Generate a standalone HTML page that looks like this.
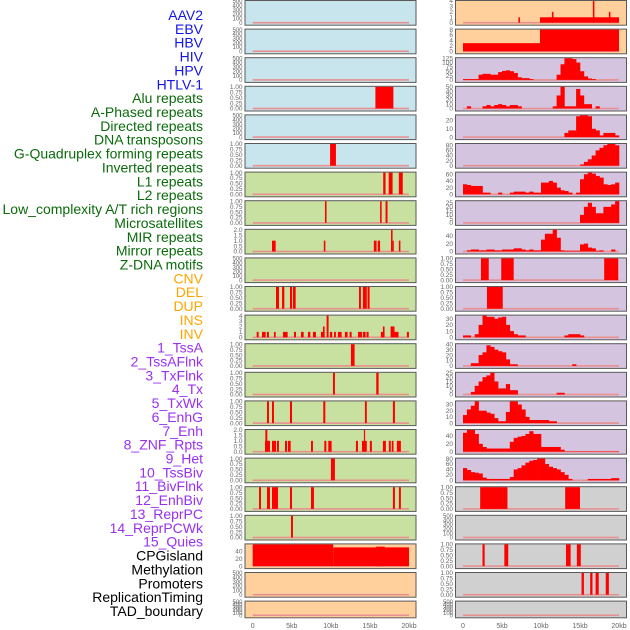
<!DOCTYPE html>
<html><head><meta charset="utf-8"><style>
html,body{margin:0;padding:0;background:#fff;}
svg{display:block;font-family:"Liberation Sans",sans-serif;}
</style></head><body>
<svg id="chart" width="630" height="630" viewBox="0 0 630 630"></svg>
<script>
const trackLabels = ["AAV2","EBV","HBV","HIV","HPV","HTLV-1","Alu repeats","A-Phased repeats","Directed repeats","DNA transposons","G-Quadruplex forming repeats","Inverted repeats","L1 repeats","L2 repeats","Low_complexity A/T rich regions","Microsatellites","MIR repeats","Mirror repeats","Z-DNA motifs","CNV","DEL","DUP","INS","INV","1_TssA","2_TssAFlnk","3_TxFlnk","4_Tx","5_TxWk","6_EnhG","7_Enh","8_ZNF_Rpts","9_Het","10_TssBiv","11_BivFlnk","12_EnhBiv","13_ReprPC","14_ReprPCWk","15_Quies","CPGisland","Methylation","Promoters","ReplicationTiming","TAD_boundary"];
const labelGroups = [6,13,5,15,5];
const xTickLabels = ["0","5kb","10kb","15kb","20kb"];
const xTickValues = [0,5,10,15,20];
const leftYMax = [500,500,500,1,500,1,1,1,2,500,1,4,1,1,1,2,1,1,1,58,500,500];
const rightYMax = [4,8,125,50,26,85,65,27,55,1,1,35,40,25,35,55,80,1,500,1,1,500];
const leftBars = {
 3:[[15.7,18.0,1]],
 5:[[9.9,10.65,1]],
 6:[[16.7,17.0,1],[17.4,17.9,1],[18.7,19.2,1]],
 7:[[9.25,9.45,1],[16.3,16.5,1],[17.0,17.25,1]],
 8:[[2.47,2.94,1],[9.1,9.3,1],[15.5,15.85,1],[16.0,16.3,1],[17.7,17.9,2],[17.9,18.0,1],[18.7,18.9,1]],
 10:[[2.98,3.37,1],[3.75,4.05,1],[4.77,5.03,1],[5.15,5.5,1],[13.6,13.85,1],[14.1,14.6,1],[14.7,14.96,1]],
 11:[[0.51,0.76,1],[1.19,1.66,1],[1.83,2.08,1],[2.72,2.94,1],[3.87,4.47,1],[5.28,5.54,1],[6.18,6.52,1],[7.07,7.37,1],[7.71,8.09,1],[8.73,9.2,1],[8.99,9.2,2],[9.46,9.71,4],[9.88,10.18,1],[10.41,10.65,1],[10.9,11.38,1],[11.8,12.14,1],[12.4,12.66,1],[13.47,13.98,1],[14.1,14.45,1],[14.57,14.83,1],[16.4,16.87,1],[16.66,16.87,2],[17.64,18.15,2],[18.15,18.66,1],[19.73,19.99,1]],
 12:[[12.57,13.04,1]],
 13:[[10.27,10.52,1],[15.81,16.11,1]],
 14:[[1.83,2.08,1],[2.47,2.72,1],[4.77,5.03,1],[9.03,9.29,1],[14.36,14.6,1],[17.94,18.2,1]],
 15:[[1.57,2.21,1],[1.62,1.87,2],[2.47,2.98,1],[3.11,3.36,1],[4.13,4.39,1],[4.51,4.86,1],[7.46,7.71,1],[9.16,9.42,1],[9.67,10.1,1],[13.21,13.47,1],[13.98,14.6,1],[14.23,14.36,2],[14.99,15.25,1],[16.66,17.04,1],[17.42,17.67,1],[17.8,18.02,1],[18.45,18.96,1]],
 16:[[10.01,10.52,1]],
 17:[[0.81,1.06,1],[1.83,2.21,1],[2.47,3.24,1],[4.77,5.03,1],[7.46,7.84,1],[17.94,18.2,1],[18.71,18.96,1]],
 18:[[4.9,5.15,1]],
 19:[[0,10.3,58],[10.3,20,50],[15.8,16.9,52]]
};
const rightBars = {
 0:[[9.87,20,1],[7.1,7.3,1],[11.4,11.6,2],[16.65,16.85,4],[18.7,18.9,2]],
 1:[[0,9.87,3],[9.87,20,8]],
 9:[[2.3,3.3,1],[4.9,6.5,1],[18.1,19.9,1]],
 10:[[3.07,5.1,1]],
 17:[[2.2,5.7,1],[13.1,15.0,1]],
 19:[[2.5,2.78,1],[5.3,5.8,1],[13.2,13.8,1],[14.6,15.1,1]],
 20:[[15.2,15.5,1],[16.3,16.6,1],[17.0,17.4,1],[18.3,18.7,1]]
};
const rightHist = {
 2:[5,5,5,5,30,35,35,30,30,45,52,55,50,40,15,10,10,5,0,0,0,0,0,0,30,90,125,125,120,100,50,20,8,5,0,0,0,0,0,0],
 3:[0,5,0,0,0,5,8,5,8,10,8,5,8,8,5,0,0,0,0,0,0,0,0,5,30,50,5,5,5,45,30,10,10,0,5,0,0,0,0,0],
 4:[0,0,0,0,0,0,0,0,0,0,0,0,0,0,0,0,0,0,0,0,0,0,0,0,0,0,5,8,8,25,26,26,25,10,8,2,5,5,5,2],
 5:[0,0,0,0,0,0,0,0,0,0,0,0,0,0,0,0,0,0,0,0,0,0,0,0,0,0,0,0,0,0,5,15,25,40,60,70,80,85,85,80],
 6:[30,28,25,25,25,5,5,0,0,5,0,0,5,8,8,8,5,8,5,5,35,35,40,35,20,12,10,5,0,5,45,60,65,62,55,50,30,28,30,35],
 7:[0,0,0,0,0,0,0,0,0,0,0,0,0,0,0,0,0,0,0,0,0,0,0,0,0,0,0,0,0,0,10,20,25,20,12,12,20,20,23,27],
 8:[0,3,5,5,3,3,5,5,3,3,5,5,5,8,8,5,3,5,3,3,30,45,45,55,35,3,2,2,2,2,18,20,10,8,2,3,0,0,5,0],
 11:[3,3,0,5,20,35,33,33,30,32,33,20,10,5,3,3,0,0,0,0,0,0,0,0,0,0,3,5,5,5,3,0,0,0,0,0,0,0,0,0],
 12:[0,0,5,5,20,25,38,35,30,27,25,12,3,3,0,0,0,0,0,0,0,0,0,0,0,0,0,0,3,0,0,0,0,0,0,0,0,0,0,0],
 13:[0,0,3,10,15,20,22,25,15,7,7,12,5,5,0,0,0,0,0,0,0,0,0,0,2,2,0,0,0,0,0,0,0,0,0,0,0,0,0,0],
 14:[13,22,28,35,20,20,17,15,8,3,3,18,35,35,30,22,10,5,5,5,5,5,3,3,0,0,0,0,0,0,0,0,0,0,0,0,0,0,0,0],
 15:[48,55,55,45,20,12,8,8,8,8,8,8,25,35,38,40,45,52,45,45,12,12,12,12,12,5,1,1,1,1,1,1,1,1,1,1,1,1,1,1],
 16:[45,38,30,28,25,10,5,5,5,5,5,5,12,40,45,55,65,72,75,80,80,60,50,45,40,30,20,5,0,0,0,0,5,5,5,5,5,5,8,8]
};
const leftBg = ["blue","blue","blue","blue","blue","blue","green","green","green","green","green","green","green","green","green","green","green","green","green","peach","peach","peach"];
const rightBg = ["peach","peach","lav","lav","lav","lav","lav","lav","lav","lav","lav","lav","lav","lav","lav","lav","lav","grey","grey","grey","grey","grey"];

const NS="http://www.w3.org/2000/svg";
const svg=document.getElementById('chart');
const bgColors={blue:"#c8e4ec",green:"#c8e0a0",peach:"#ffd09c",lav:"#d4c4e0",grey:"#d0d0d0"};
const groupColors=["#1515e6","#0b6b0b","#ffa500","#9a30f0","#000000"];
function mk(tag,attrs){const e=document.createElementNS(NS,tag);for(const k in attrs)e.setAttribute(k,attrs[k]);svg.appendChild(e);return e;}
function tickSet(m){
  if(m===1) return {v:[0,0.25,0.5,0.75,1],f:2};
  if(m===2) return {v:[0,0.5,1,1.5,2],f:1};
  if(m===500) return {v:[0,100,200,300,400,500],f:0};
  let step;
  if(m<=5) step=1; else if(m<=10) step=2; else if(m===25||m===27) step=5;
  else if(m<=50) step=10; else if(m<=100) step=20; else step=25;
  const v=[];for(let t=0;t<=m+1e-9;t+=step)v.push(t);return {v:v,f:0};
}
const cols=[{x0:252.7,x1:409,fl:245,fr:416},{x0:463,x1:619,fl:455.5,fr:626.5}];
function drawPanel(c,r){
  const col=cols[c];
  const top=28.6*r, h=(r===21?16.7:24.7);
  const ymax=(c===0?leftYMax:rightYMax)[r];
  const bg=(c===0?leftBg:rightBg)[r];
  const xs=kb=>col.x0+(kb/20)*(col.x1-col.x0);
  const ys=v=>top+h-2-(v/ymax)*(h-3);
  const fr=mk('rect',{x:col.fl,y:top+0.5,width:col.fr-col.fl,height:h,fill:bgColors[bg],stroke:"#5a5a5a","stroke-width":1});
  
  
  const bl=mk('rect',{x:xs(0),y:ys(0)-0.8,width:xs(20)-xs(0),height:1.6,fill:"#e89090"});
  
  
  const bars=(c===0?leftBars:rightBars)[r];
  if(bars) bars.forEach(b=>{
    const e=mk('rect',{x:xs(b[0]),y:ys(b[2]),width:Math.max(1.2,xs(b[1])-xs(b[0])),height:ys(0)-ys(b[2]),fill:"#ff0000"});
    
    
  });
  const hist=(c===1?rightHist[r]:null);
  if(hist) hist.forEach((v,i)=>{
    if(v<=0) return;
    const e=mk('rect',{x:xs(i*0.5),y:ys(v),width:xs((i+1)*0.5)-xs(i*0.5)+0.3,height:ys(0)-ys(v),fill:"#ff0000"});
    
    
  });
  const ts=tickSet(ymax);
  ts.v.forEach(t=>{
    const tx=mk('text',{x:col.fl-2.5,y:ys(t)+2.2,"text-anchor":"end","font-size":(ymax===500?6:6.5),fill:"#666"});
    tx.textContent=t.toFixed(ts.f);
    
    
  });
}
for(let r=0;r<22;r++){drawPanel(0,r);drawPanel(1,r);}
[0,1].forEach(c=>{
  const col=cols[c];
  xTickValues.forEach((v,i)=>{
    const t=mk('text',{x:col.x0+(v/20)*(col.x1-col.x0),y:628,"text-anchor":"middle","font-size":7,fill:"#666"});
    t.textContent=xTickLabels[i];
    
    
  });
});
let gi=0,cnt=0;
trackLabels.forEach((lab,i)=>{
  if(cnt>=labelGroups[gi]){gi++;cnt=0;}
  cnt++;
  const t=mk('text',{x:203,y:20+i*13.86,"text-anchor":"end","font-size":14,fill:groupColors[gi]});
  t.textContent=lab;
  
  
});
</script>
</body></html>
